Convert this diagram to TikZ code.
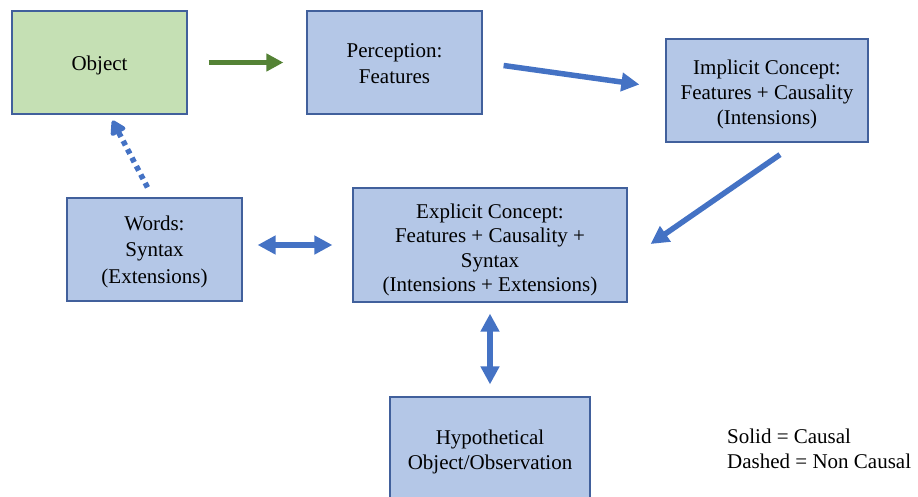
\documentclass[tikz,border=0pt]{standalone}
\usepackage{fontspec}
\setmainfont{Liberation Serif}
\usetikzlibrary{arrows.meta}
\definecolor{boxblue}{HTML}{B4C7E7}
\definecolor{boxgreen}{HTML}{C5E0B4}
\definecolor{edge}{HTML}{41609C}
\definecolor{arrblue}{HTML}{4472C4}
\definecolor{arrgreen}{HTML}{548235}
\tikzset{
  box/.style={draw=edge, line width=1.2pt, fill=boxblue, rectangle, inner sep=0pt},
  lbl/.style={align=center, inner sep=0pt, font=\fontsize{21}{25}\selectfont},
  conn/.style={line width=5.5pt, draw=arrblue, -{Triangle[length=18pt,width=18pt]}},
  biconn/.style={line width=5.5pt, draw=arrblue, {Triangle[length=18pt,width=18pt]}-{Triangle[length=18pt,width=18pt]}},
}
\begin{document}
\begin{tikzpicture}[x=1pt,y=-1pt]
\useasboundingbox (0,0) rectangle (918,496);
\node[box, fill=boxgreen, minimum width=175pt, minimum height=103pt] (obj) at (99.5,62.5) {};
\node[box, minimum width=175pt, minimum height=103pt] (perc) at (394.5,62.5) {};
\node[box, minimum width=202pt, minimum height=103pt] (impl) at (767,90.5) {};
\node[box, minimum width=175pt, minimum height=103pt] (words) at (154.5,249.5) {};
\node[box, minimum width=274pt, minimum height=114pt] (expl) at (490,245) {};
\node[box, minimum width=200pt, minimum height=105pt] (hypo) at (490,449.5) {};

\node[lbl] (objt) at ([yshift=-3pt]obj.center) {Object};
\node[lbl, font=\fontsize{21}{26}\selectfont] (perct) at ([yshift=-1pt]perc.center) {Perception:\\Features};
\node[lbl] (implt) at ([yshift=-3.5pt]impl.center) {Implicit Concept:\\Features + Causality\\(Intensions)};
\node[lbl, font=\fontsize{21}{26.5}\selectfont] (wordst) at ([yshift=-2pt]words.center) {Words:\\Syntax\\(Extensions)};
\node[lbl, font=\fontsize{21}{24.3}\selectfont] (explt) at ([yshift=-5pt]expl.center) {Explicit Concept:\\Features + Causality +\\Syntax\\(Intensions + Extensions)};
\node[lbl] (hypot) at ([yshift=-2.5pt]hypo.center) {Hypothetical\\Object/Observation};
\node[lbl, align=left, anchor=base west] (legend) at (727,468) {Solid = Causal\\Dashed = Non Causal};

\draw[line width=5.5pt, draw=arrgreen, -{Triangle[length=17pt,width=17pt]}, color=arrgreen]
  ([xshift=21pt]obj.east) -- ([xshift=-23pt]perc.west);
\draw[conn] ([shift={(21,3)}]perc.east) -- ([shift={(-26,-6)}]impl.west);
\draw[conn] ([shift={(13,12)}]impl.south) -- ([shift={(23,-1)}]expl.east);
\draw[line width=5.5pt, draw=arrblue, dash pattern=on 5pt off 4.5pt,
  -{Triangle[length=16pt,width=18pt,round]}]
  ([shift={(-7,-10)}]words.north) -- ([shift={(13,6)}]obj.south);
\draw[biconn] ([shift={(15,-4.5)}]words.east) -- ([shift={(-20,0)}]expl.west);
\draw[biconn] ([shift={(0,11)}]expl.south) -- ([shift={(0,-12)}]hypo.north);
\end{tikzpicture}
\end{document}
